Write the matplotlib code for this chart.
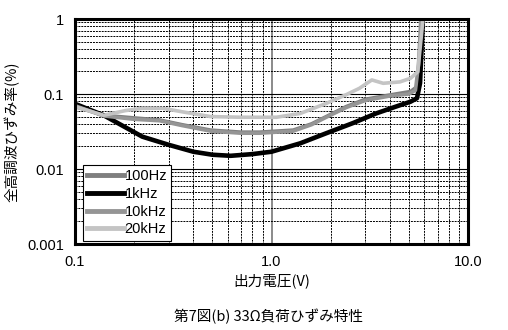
import matplotlib
matplotlib.use('Agg')
import matplotlib.pyplot as plt
from matplotlib.ticker import LogLocator, NullFormatter, FixedLocator, FixedFormatter

# 33Ω負荷ひずみ特性
x_100 = [0.1, 0.14, 0.2, 0.27, 0.35, 0.49, 0.7, 0.87, 1.29, 1.6, 1.9, 2.4, 3.0, 4.0, 5.1, 5.5, 5.7, 5.8]
y_100 = [0.068, 0.052, 0.048, 0.045, 0.039, 0.033, 0.031, 0.031, 0.033, 0.04, 0.05, 0.068, 0.085, 0.097, 0.108, 0.125, 0.3, 1.0]

x_1k = [0.1, 0.14, 0.22, 0.3, 0.4, 0.5, 0.62, 0.8, 1.0, 1.4, 1.9, 2.6, 3.4, 4.3, 5.1, 5.5, 5.7, 5.8, 5.88]
y_1k = [0.074, 0.052, 0.027, 0.021, 0.017, 0.0155, 0.015, 0.0158, 0.017, 0.022, 0.030, 0.041, 0.055, 0.068, 0.079, 0.088, 0.14, 0.4, 1.0]

x_10k = [0.1, 0.14, 0.2, 0.27, 0.35, 0.49, 0.7, 0.87, 1.29, 1.6, 1.9, 2.4, 3.0, 4.0, 5.0, 5.4, 5.6, 5.75]
y_10k = [0.07, 0.051, 0.046, 0.044, 0.038, 0.032, 0.030, 0.030, 0.032, 0.039, 0.049, 0.066, 0.082, 0.094, 0.100, 0.112, 0.25, 1.0]

x_20k = [0.1, 0.14, 0.18, 0.22, 0.28, 0.35, 0.49, 0.7, 1.06, 1.4, 1.9, 2.4, 2.8, 3.24, 3.7, 4.5, 5.1, 5.55, 5.75, 5.9]
y_20k = [0.068, 0.052, 0.06, 0.0645, 0.0645, 0.058, 0.050, 0.049, 0.049, 0.055, 0.075, 0.098, 0.119, 0.154, 0.139, 0.145, 0.162, 0.198, 0.5, 1.0]

labels = ['100Hz', '1kHz', '10kHz', '20kHz']
jp = ['Noto Sans CJK JP', 'DejaVu Sans']

plt.rcParams['font.family'] = ['Liberation Sans', 'DejaVu Sans']

fig = plt.figure(figsize=(5.08, 3.30), dpi=100)
ax = fig.add_axes([0.1476, 0.2606, 0.9213 - 0.1476, 0.9424 - 0.2606])

ax.set_xscale('log')
ax.set_yscale('log')
ax.set_xlim(0.1, 10)
ax.set_ylim(0.001, 1)

# グリッド: 主目盛は実線, 補助目盛は点線
ax.xaxis.set_minor_locator(LogLocator(base=10, subs=range(2, 10)))
ax.yaxis.set_minor_locator(LogLocator(base=10, subs=range(2, 10)))
ax.xaxis.set_minor_formatter(NullFormatter())
ax.yaxis.set_minor_formatter(NullFormatter())
ax.grid(which='minor', color='black', linestyle=(0, (2, 1)), linewidth=0.7)
ax.grid(which='major', axis='y', color='black', linestyle='-', linewidth=0.8)
ax.grid(which='major', axis='x', color='#777777', linestyle='-', linewidth=1.2)
ax.set_axisbelow(True)

ax.xaxis.set_major_locator(FixedLocator([0.1, 1, 10]))
ax.xaxis.set_major_formatter(FixedFormatter(['0.1', '1.0', '10.0']))
ax.yaxis.set_major_locator(FixedLocator([0.001, 0.01, 0.1, 1]))
ax.yaxis.set_major_formatter(FixedFormatter(['0.001', '0.01', '0.1', '1']))
ax.tick_params(which='both', length=0, labelsize=10.5, pad=8)

for s in ax.spines.values():
    s.set_linewidth(2.2)

ax.plot(x_100, y_100, color='#7f7f7f', linewidth=2.6, label=labels[0])
ax.plot(x_1k, y_1k, color='black', linewidth=3.3, label=labels[1])
ax.plot(x_10k, y_10k, color='#959595', linewidth=2.6, label=labels[2])
ax.plot(x_20k, y_20k, color='#c4c4c4', linewidth=2.6, label=labels[3])

leg = ax.legend(loc='lower left', bbox_to_anchor=(0.02, 0.015), fontsize=10.5,
                frameon=True, fancybox=False, framealpha=1, edgecolor='black',
                handlelength=2.5, handletextpad=0.05, labelspacing=0.25,
                borderpad=0.3, borderaxespad=0)
leg.get_frame().set_linewidth(0.8)
for h in leg.get_lines():
    h.set_linewidth(3.5)

ax.set_ylabel('全高調波ひずみ率(%)', family=jp, fontsize=10.5, labelpad=5)
ax.set_xlabel('出力電圧(V)', family=jp, fontsize=10.5, labelpad=3)
fig.text(0.528, 0.04, '第7図(b) 33Ω負荷ひずみ特性', family=jp, fontsize=10.5,
         ha='center', va='center')

fig.savefig('out.png', dpi=100)
